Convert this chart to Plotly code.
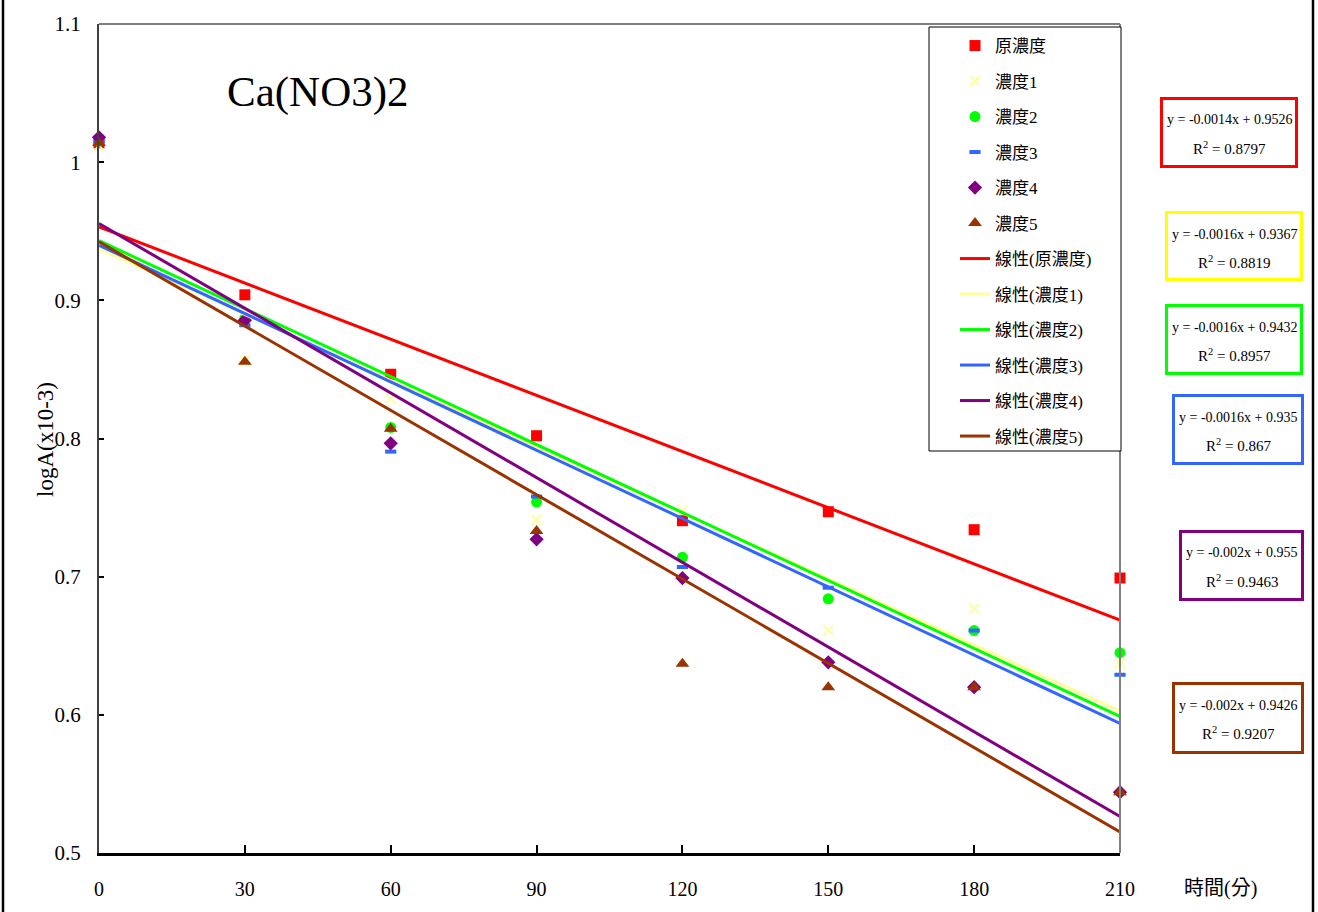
import numpy as np
import plotly.graph_objects as go

# ---------------- data ----------------
times = [0, 30, 60, 90, 120, 150, 180, 210]
series_names = ["原濃度", "濃度1", "濃度2", "濃度3", "濃度4", "濃度5"]
orig_conc = [1.014, 0.904, 0.8465, 0.802, 0.7405, 0.747, 0.734, 0.699]
conc1 = [1.012, 0.856, 0.829, 0.741, 0.748, 0.661, 0.677, 0.637]
conc2 = [1.015, 0.887, 0.808, 0.754, 0.714, 0.684, 0.661, 0.645]
conc3 = [1.015, 0.882, 0.7905, 0.758, 0.707, 0.692, 0.661, 0.629]
conc4 = [1.018, 0.8855, 0.7965, 0.727, 0.699, 0.638, 0.620, 0.544]
conc5 = [1.014, 0.8556, 0.807, 0.733, 0.637, 0.620, 0.620, 0.544]
eq_texts = ["y = -0.0014x + 0.9526", "y = -0.0016x + 0.9367", "y = -0.0016x + 0.9432",
            "y = -0.0016x + 0.935", "y = -0.002x + 0.955", "y = -0.002x + 0.9426"]
r2_texts = ["0.8797", "0.8819", "0.8957", "0.867", "0.9463", "0.9207"]
y_tickvals = [0.5, 0.6, 0.7, 0.8, 0.9, 1.0, 1.1]
y_ticktext = ["0.5", "0.6", "0.7", "0.8", "0.9", "1", "1.1"]
x_tickvals = [0, 30, 60, 90, 120, 150, 180, 210]
x_ticktext = ["0", "30", "60", "90", "120", "150", "180", "210"]
chart_title = "Ca(NO3)2"
y_title = "logA(x10-3)"
x_title = "時間(分)"

all_series = [orig_conc, conc1, conc2, conc3, conc4, conc5]

# ---------------- styles ----------------
colors = ["#FF0000", "#FFFF99", "#00FF00", "#3366FF", "#800080", "#993300"]
box_colors = ["#FF0000", "#FFFF00", "#00FF00", "#3366FF", "#800080", "#993300"]
W, H = 1318, 912
L, R, T, B = 99, 198, 24, 59
PW, PH = W - L - R, H - T - B
FONT = "Liberation Serif, Noto Sans CJK TC, serif"


def px(x):
    return (x - L) / PW


def py(y):
    return (H - B - y) / PH


marker_styles = [
    dict(symbol="square", size=11, color=colors[0]),
    dict(symbol="x-thin", size=10, color=colors[1], line=dict(color=colors[1], width=2)),
    dict(symbol="circle", size=11, color=colors[2]),
    dict(symbol="line-ew", size=8, color=colors[3], line=dict(color=colors[3], width=4)),
    dict(symbol="diamond", size=11, color=colors[4]),
    dict(symbol="triangle-up", size=12, color=colors[5]),
]

fig = go.Figure()

for i, (name, vals) in enumerate(zip(series_names, all_series)):
    fig.add_trace(go.Scatter(
        x=times, y=vals, mode="markers", name=name, marker=marker_styles[i],
        cliponaxis=False, legendgroup="m%d" % i, showlegend=True))

for i, (name, vals) in enumerate(zip(series_names, all_series)):
    slope, intercept = np.polyfit(times, vals, 1)
    xs = [min(times), max(times)]
    ys = [slope * xv + intercept for xv in xs]
    fig.add_trace(go.Scatter(
        x=xs, y=ys, mode="lines", name="線性(%s)" % name,
        line=dict(color=colors[i], width=3), legendgroup="l%d" % i))

shapes = []
# outer frame sides
for xp in (3, 1313):
    shapes.append(dict(type="line", xref="paper", yref="paper", x0=px(xp), x1=px(xp),
                       y0=py(0), y1=py(H), line=dict(color="black", width=2.5)))
# top and right plot borders
shapes.append(dict(type="line", xref="paper", yref="paper", x0=0, x1=1, y0=1, y1=1,
                   line=dict(color="#808080", width=2)))
shapes.append(dict(type="line", xref="paper", yref="paper", x0=1, x1=1, y0=0, y1=1,
                   line=dict(color="#808080", width=2)))
# legend box
shapes.append(dict(type="rect", xref="paper", yref="paper", x0=px(929), x1=px(1121),
                   y0=py(451), y1=py(27), line=dict(color="black", width=1),
                   fillcolor="white", layer="above"))

# equation boxes (pixel positions: left, top, right, bottom)
boxes = [(1160, 97, 1298, 168), (1165, 211, 1303, 281), (1165, 304, 1303, 375),
         (1172, 394, 1304, 465), (1179, 530, 1304, 601), (1172, 682, 1304, 754)]
annotations = []
for i, (x0, y0, x1, y1) in enumerate(boxes):
    shapes.append(dict(type="rect", xref="paper", yref="paper", x0=px(x0 + 1.5), x1=px(x1 - 1.5),
                       y0=py(y1 - 1.5), y1=py(y0 + 1.5), line=dict(color=box_colors[i], width=3),
                       fillcolor="white"))
    cx = (x0 + x1) / 2
    annotations.append(dict(xref="paper", yref="paper", x=px(cx), y=py(y0 + 23),
                            text=eq_texts[i], showarrow=False, xanchor="center", yanchor="middle",
                            font=dict(family=FONT, size=14, color="black")))
    annotations.append(dict(xref="paper", yref="paper", x=px(cx), y=py(y0 + 51),
                            text="R<sup>2</sup> = " + r2_texts[i], showarrow=False,
                            xanchor="center", yanchor="middle",
                            font=dict(family=FONT, size=15, color="black")))

annotations.append(dict(xref="paper", yref="paper", x=px(318), y=py(92), text=chart_title,
                        showarrow=False, xanchor="center", yanchor="middle",
                        font=dict(family=FONT, size=43, color="black")))
annotations.append(dict(xref="paper", yref="paper", x=px(45), y=py(440), text=y_title,
                        showarrow=False, textangle=-90, xanchor="center", yanchor="middle",
                        font=dict(family=FONT, size=23, color="black")))
annotations.append(dict(xref="paper", yref="paper", x=px(1220), y=py(888), text=x_title,
                        showarrow=False, xanchor="center", yanchor="middle",
                        font=dict(family=FONT, size=20, color="black")))

fig.update_layout(
    width=W, height=H,
    margin=dict(l=L, r=R, t=T, b=B, pad=0, autoexpand=False),
    paper_bgcolor="white", plot_bgcolor="white",
    font=dict(family=FONT, color="black"),
    showlegend=True,
    legend=dict(x=px(955), y=py(28), xanchor="left", yanchor="top",
                bgcolor="rgba(0,0,0,0)", borderwidth=0,
                font=dict(family=FONT, size=17, color="black"),
                traceorder="grouped", tracegroupgap=10.4),
    xaxis=dict(range=[0, 210], tickvals=x_tickvals, ticktext=x_ticktext, automargin=False,
               showgrid=False, zeroline=False, showline=True, linecolor="black", linewidth=2.5,
               ticks="inside", ticklen=8, tickwidth=1.5, tickcolor="black",
               tickfont=dict(family=FONT, size=20, color="black"), ticklabelstandoff=16),
    yaxis=dict(range=[0.5, 1.1], tickvals=y_tickvals, ticktext=y_ticktext, automargin=False,
               showgrid=False, zeroline=False, showline=True, linecolor="#404040", linewidth=2,
               ticks="inside", ticklen=5, tickwidth=1.5, tickcolor="black",
               tickfont=dict(family=FONT, size=21, color="black"), ticklabelstandoff=12),
    shapes=shapes,
    annotations=annotations,
)

fig.write_html("out.html")
